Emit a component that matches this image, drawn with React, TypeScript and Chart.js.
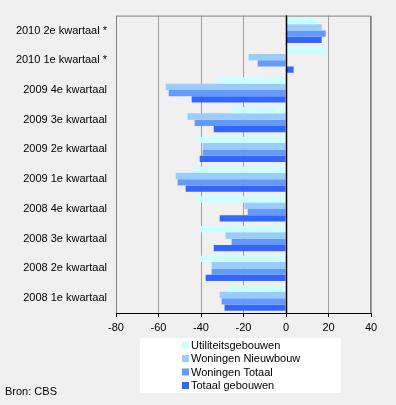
import React, { useEffect, useRef } from "react";
import { Chart, registerables } from "chart.js";

Chart.register(...registerables);

const categories = [
  "2010 2e kwartaal *",
  "2010 1e kwartaal *",
  "2009 4e kwartaal",
  "2009 3e kwartaal",
  "2009 2e kwartaal",
  "2009 1e kwartaal",
  "2008 4e kwartaal",
  "2008 3e kwartaal",
  "2008 2e kwartaal",
  "2008 1e kwartaal",
];

const utiliteitsgebouwen = [14.9, 19.3, -32.5, -25.7, -41.9, -43.5, -41.7, -40.6, -40.6, -27.5];
const woningenNieuwbouw = [16.8, -17.6, -56.6, -46.3, -39.2, -51.9, -19.5, -28.4, -35.0, -31.2];
const woningenTotaal = [18.7, -13.3, -55.2, -43.0, -39.2, -51.0, -18.0, -25.6, -35.0, -30.3];
const totaalGebouwen = [16.8, 3.6, -44.4, -34.0, -40.6, -47.2, -31.2, -34.0, -37.8, -28.9];

const seriesNames = ["Utiliteitsgebouwen", "Woningen Nieuwbouw", "Woningen Totaal", "Totaal gebouwen"];
const seriesColors = ["#ccffff", "#99ccff", "#6699ff", "#3366ff"];
const sourceText = "Bron: CBS";

const FONT = "'Liberation Sans', Arial, sans-serif";

const framePlugin = {
  id: "frame",
  beforeDatasetsDraw(chart: any) {
    const { ctx, chartArea } = chart;
    ctx.save();
    ctx.strokeStyle = "#808080";
    ctx.lineWidth = 1;
    ctx.beginPath();
    ctx.moveTo(chartArea.left + 0.5, chartArea.bottom);
    ctx.lineTo(chartArea.left + 0.5, chartArea.top + 0.5);
    ctx.lineTo(chartArea.right - 0.5, chartArea.top + 0.5);
    ctx.lineTo(chartArea.right - 0.5, chartArea.bottom);
    ctx.stroke();
    ctx.restore();
  },
  afterDatasetsDraw(chart: any) {
    const { ctx, chartArea, scales } = chart;
    const x0 = Math.round(scales.x.getPixelForValue(0)) + 0.5;
    ctx.save();
    ctx.strokeStyle = "#000000";
    ctx.lineWidth = 1.5;
    ctx.beginPath();
    ctx.moveTo(x0, chartArea.top);
    ctx.lineTo(x0, chartArea.bottom);
    ctx.stroke();
    ctx.restore();
  },
  afterDraw(chart: any) {
    const { ctx } = chart;
    ctx.save();
    // legend box
    ctx.fillStyle = "#ffffff";
    ctx.fillRect(140, 338, 201, 55);
    ctx.font = `11px ${FONT}`;
    ctx.textBaseline = "middle";
    ctx.textAlign = "left";
    const rows = [345, 358.5, 372, 385.5];
    chart.data.datasets.forEach((ds: any, i: number) => {
      ctx.fillStyle = ds.backgroundColor;
      ctx.fillRect(182, rows[i] - 3.5, 7, 7);
      ctx.fillStyle = "#000000";
      ctx.fillText(ds.label, 191, rows[i] + 0.5);
    });
    ctx.fillStyle = "#000000";
    ctx.fillText(sourceText, 5, 392);
    ctx.restore();
  },
};

export default function App() {
  const canvasRef = useRef<HTMLCanvasElement | null>(null);

  useEffect(() => {
    if (!canvasRef.current) return;
    const data = [utiliteitsgebouwen, woningenNieuwbouw, woningenTotaal, totaalGebouwen];
    const chart = new Chart(canvasRef.current, {
      type: "bar",
      data: {
        labels: categories,
        datasets: seriesNames.map((name, i) => ({
          label: name,
          data: data[i],
          backgroundColor: seriesColors[i],
          borderWidth: 0,
          barPercentage: 1,
          categoryPercentage: 0.85,
        })),
      },
      options: {
        indexAxis: "y",
        animation: false,
        responsive: false,
        maintainAspectRatio: false,
        layout: { padding: { left: 0, top: 15, right: 25, bottom: 0 } },
        plugins: {
          legend: { display: false },
          tooltip: { enabled: false },
          title: { display: false },
        },
        scales: {
          x: {
            min: -80,
            max: 40,
            ticks: {
              stepSize: 20,
              color: "#000000",
              font: { family: FONT, size: 11 },
              padding: 4,
            },
            grid: {
              color: "#a0a0a0",
              tickColor: "#000000",
              tickLength: 4,
              drawOnChartArea: true,
            },
            border: { display: true, color: "#000000", width: 1 },
            afterFit(scale: any) {
              scale.height = 92;
            },
          },
          y: {
            ticks: {
              color: "#000000",
              font: { family: FONT, size: 11 },
              padding: 9,
            },
            grid: { display: false, drawTicks: false },
            border: { display: false },
            afterFit(scale: any) {
              scale.width = 116;
            },
          },
        },
      },
      plugins: [framePlugin],
    } as any);
    return () => chart.destroy();
  }, []);

  return (
    <div
      style={{
        position: "fixed",
        left: 0,
        top: 0,
        width: 396,
        height: 405,
        background: "#f0f0f0",
      }}
    >
      <canvas ref={canvasRef} width={396} height={405} style={{ display: "block" }} />
    </div>
  );
}
